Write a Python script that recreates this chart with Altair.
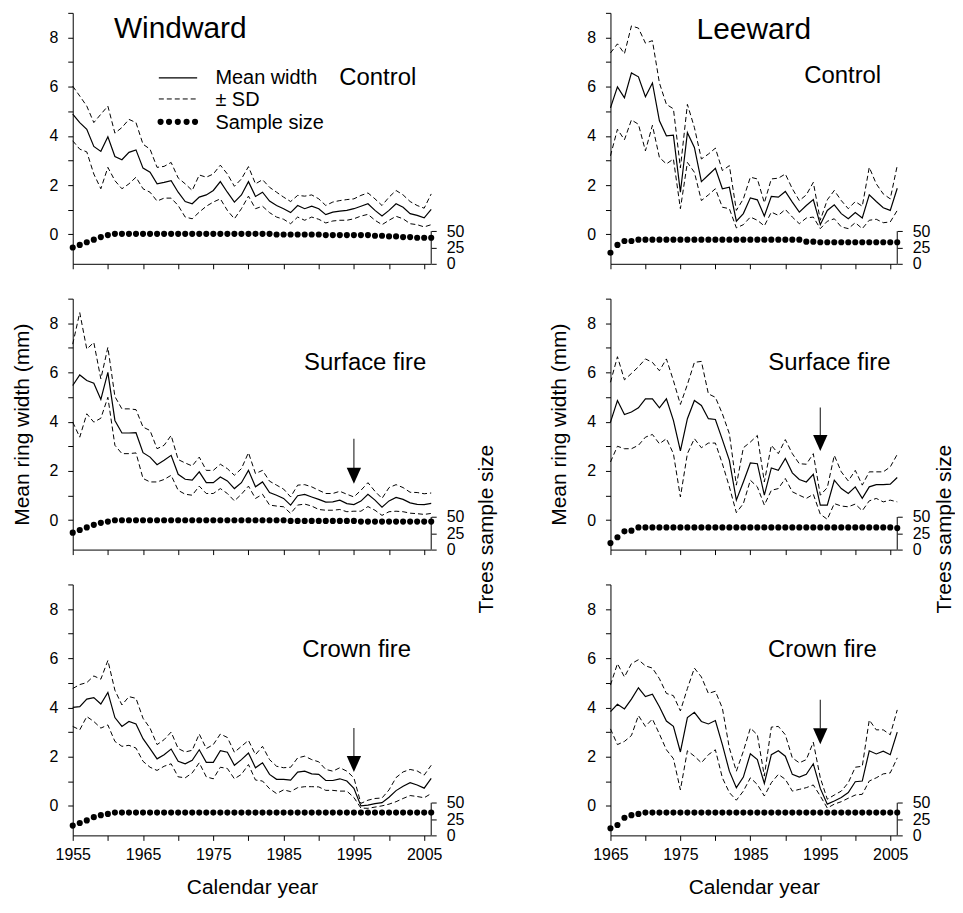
import altair as alt
import pandas as pd

FONT = "Liberation Sans"

# ---------------- data ----------------
WIND_YEARS = list(range(1955, 2007))
LEE_YEARS = list(range(1965, 2007))

wind_control_mean = [4.88, 4.54, 4.27, 3.57, 3.37, 3.96, 3.16, 3.03, 3.33, 3.43,
                     2.69, 2.52, 2.05, 2.11, 2.18, 1.71, 1.33, 1.24, 1.51, 1.60,
                     1.78, 2.14, 1.71, 1.31, 1.60, 2.14, 1.54, 1.71, 1.35, 1.17,
                     1.04, 0.88, 1.17, 1.04, 1.14, 1.04, 0.80, 0.90, 0.94, 0.97,
                     1.04, 1.14, 1.24, 0.97, 0.74, 0.97, 1.24, 1.10, 0.84, 0.77,
                     0.67, 1.01]
wind_control_upper = [6.02, 5.62, 5.21, 4.54, 4.88, 5.21, 4.11, 4.34, 4.67, 4.54,
                      3.66, 3.46, 2.72, 2.76, 2.92, 2.29, 2.05, 1.78, 2.41, 2.32,
                      2.45, 2.81, 2.45, 1.95, 2.25, 2.75, 2.05, 2.22, 1.91, 1.71,
                      1.51, 1.33, 1.58, 1.55, 1.60, 1.44, 1.17, 1.31, 1.37, 1.41,
                      1.44, 1.58, 1.68, 1.44, 1.17, 1.51, 1.78, 1.60, 1.33, 1.17,
                      1.06, 1.64]
wind_control_lower = [3.80, 3.46, 3.35, 2.45, 1.85, 2.72, 2.18, 1.85, 2.05, 2.32,
                      1.85, 1.71, 1.35, 1.47, 1.47, 1.17, 0.70, 0.63, 0.90, 1.14,
                      1.31, 1.44, 0.97, 0.63, 1.04, 1.55, 1.04, 1.14, 0.88, 0.70,
                      0.61, 0.43, 0.70, 0.57, 0.70, 0.61, 0.46, 0.54, 0.57, 0.57,
                      0.63, 0.74, 0.81, 0.57, 0.39, 0.57, 0.73, 0.63, 0.43, 0.39,
                      0.30, 0.39]
wind_control_n = [25, 29, 33, 37, 41, 44] + [46] * 23 + [45] * 7 + [44] * 7 + \
                 [43, 43, 42, 42, 41, 41, 40, 40, 40]

wind_surface_mean = [5.47, 5.90, 5.67, 5.56, 4.90, 6.00, 4.05, 3.54, 3.54, 3.55,
                     2.74, 2.56, 2.25, 2.43, 2.63, 1.86, 1.66, 1.62, 1.96, 1.52,
                     1.52, 1.75, 1.59, 1.28, 1.52, 2.02, 1.35, 1.55, 1.12, 1.01,
                     0.88, 0.61, 0.99, 1.04, 0.94, 0.84, 0.73, 0.74, 0.81, 0.67,
                     0.63, 0.77, 1.05, 0.81, 0.52, 0.78, 0.92, 0.84, 0.70, 0.64,
                     0.63, 0.68]
wind_surface_upper = [7.15, 8.43, 6.95, 7.22, 5.74, 7.02, 5.02, 4.52, 4.52, 4.49,
                      3.78, 3.64, 2.90, 3.04, 3.44, 2.46, 2.32, 2.20, 2.56, 2.02,
                      2.02, 2.27, 2.09, 1.82, 2.09, 2.74, 1.89, 2.02, 1.58, 1.42,
                      1.26, 0.94, 1.42, 1.44, 1.35, 1.21, 1.08, 1.08, 1.17, 1.05,
                      0.94, 1.21, 1.52, 1.17, 0.88, 1.32, 1.44, 1.32, 1.13, 1.12,
                      1.07, 1.10]
wind_surface_lower = [3.98, 3.37, 4.32, 3.98, 4.14, 4.99, 3.04, 2.70, 2.70, 2.73,
                      1.69, 1.55, 1.55, 1.65, 1.82, 1.21, 1.05, 1.01, 1.38, 1.08,
                      1.08, 1.28, 1.08, 0.78, 1.05, 1.38, 0.88, 1.05, 0.61, 0.57,
                      0.54, 0.27, 0.61, 0.65, 0.57, 0.43, 0.40, 0.40, 0.43, 0.34,
                      0.36, 0.36, 0.55, 0.40, 0.19, 0.34, 0.36, 0.34, 0.28, 0.26,
                      0.23, 0.27]
wind_surface_n = [26, 30, 34, 38, 41, 43] + [45] * 25 + [44] * 10 + [43] * 11

wind_crown_mean = [4.00, 4.03, 4.34, 4.40, 4.14, 4.61, 3.59, 3.23, 3.43, 3.33,
                   2.73, 2.33, 1.91, 2.08, 2.31, 1.81, 1.71, 1.85, 2.28, 1.77,
                   1.77, 2.24, 2.18, 1.65, 1.88, 2.15, 1.55, 1.75, 1.28, 1.08,
                   1.08, 1.05, 1.37, 1.41, 1.30, 1.28, 1.03, 1.03, 1.10, 1.01,
                   0.71, 0.00, 0.03, 0.09, 0.13, 0.35, 0.62, 0.80, 0.94, 0.85,
                   0.72, 1.12]
wind_crown_upper = [4.77, 4.93, 5.01, 5.28, 5.15, 5.91, 4.70, 4.10, 4.44, 4.37,
                    3.56, 3.16, 2.49, 2.69, 3.00, 2.33, 2.19, 2.26, 2.92, 2.33,
                    2.49, 2.92, 2.78, 2.18, 2.42, 2.66, 2.08, 2.42, 1.88, 1.61,
                    1.55, 1.57, 1.95, 2.02, 1.88, 1.79, 1.48, 1.41, 1.55, 1.41,
                    1.14, 0.10, 0.23, 0.30, 0.32, 0.65, 1.15, 1.38, 1.48, 1.42,
                    1.25, 1.65]
wind_crown_lower = [3.23, 3.09, 3.63, 3.43, 3.16, 3.29, 2.62, 2.42, 2.46, 2.35,
                    1.81, 1.57, 1.44, 1.61, 1.71, 1.18, 1.14, 1.34, 1.75, 1.18,
                    1.10, 1.57, 1.52, 1.10, 1.28, 1.68, 1.05, 1.01, 0.70, 0.50,
                    0.65, 0.58, 0.74, 0.78, 0.78, 0.77, 0.63, 0.63, 0.60, 0.60,
                    0.34, -0.09, -0.10, -0.05, 0.00, 0.07, 0.17, 0.30, 0.42, 0.38,
                    0.33, 0.50]
wind_crown_n = [15, 19, 23, 28, 31, 33] + [35] * 46

lee_control_mean = [5.14, 5.99, 5.55, 6.56, 6.40, 5.59, 6.15, 4.61, 4.00, 4.03,
                    1.71, 4.13, 3.53, 2.14, 2.41, 2.68, 1.85, 1.91, 0.53, 0.84,
                    1.48, 1.40, 0.74, 1.54, 1.51, 1.74, 1.31, 0.90, 1.17, 1.41,
                    0.39, 0.97, 1.20, 0.84, 0.63, 0.88, 0.66, 1.60, 1.33, 1.08,
                    0.97, 1.87]
lee_control_upper = [7.37, 7.74, 7.34, 8.47, 8.38, 7.77, 7.87, 6.15, 5.28, 5.10,
                     2.70, 5.28, 4.34, 3.06, 3.26, 3.50, 2.59, 2.79, 0.97, 1.44,
                     2.32, 2.25, 1.28, 2.25, 2.28, 2.45, 1.85, 1.37, 1.60, 2.11,
                     0.57, 1.40, 1.78, 1.37, 1.04, 1.33, 1.14, 2.72, 2.05, 1.64,
                     1.44, 2.79]
lee_control_lower = [3.19, 4.27, 3.84, 4.65, 4.47, 3.39, 4.43, 3.12, 2.86, 3.06,
                     1.04, 2.92, 2.52, 1.37, 1.60, 1.85, 1.10, 1.04, 0.26, 0.39,
                     0.70, 0.57, 0.34, 0.90, 0.77, 1.01, 0.70, 0.43, 0.66, 0.70,
                     0.23, 0.53, 0.63, 0.30, 0.23, 0.47, 0.23, 0.57, 0.61, 0.47,
                     0.50, 0.97]
lee_control_n = [17, 29, 35, 35] + [37] * 24 + [34, 34] + [33] * 12

lee_surface_mean = [3.98, 4.86, 4.29, 4.39, 4.56, 4.93, 4.93, 4.56, 4.93, 4.05,
                    2.81, 4.12, 4.86, 4.66, 4.12, 4.09, 3.27, 2.43, 0.81, 1.55,
                    2.32, 2.29, 1.01, 2.12, 2.02, 2.50, 1.92, 1.65, 1.55, 1.86,
                    0.61, 0.61, 1.62, 1.28, 1.08, 1.35, 0.88, 1.35, 1.44, 1.44,
                    1.46, 1.73]
lee_surface_upper = [5.60, 6.64, 5.70, 5.96, 6.23, 6.55, 6.41, 6.07, 6.55, 5.67,
                     4.70, 5.51, 6.41, 6.45, 5.13, 4.99, 4.32, 3.51, 1.42, 2.94,
                     3.17, 3.44, 1.55, 3.04, 2.70, 3.27, 2.70, 2.29, 2.27, 2.70,
                     1.01, 1.32, 2.63, 1.96, 1.59, 2.02, 1.42, 1.96, 1.96, 1.96,
                     2.16, 2.67]
lee_surface_lower = [2.36, 3.00, 2.90, 2.90, 3.04, 3.37, 3.48, 3.10, 3.31, 2.70,
                     0.94, 2.70, 3.31, 2.94, 3.13, 3.13, 2.29, 1.35, 0.30, 0.67,
                     1.62, 1.35, 0.61, 1.21, 1.28, 1.69, 1.15, 1.01, 0.88, 1.05,
                     0.24, 0.03, 0.67, 0.57, 0.54, 0.65, 0.38, 0.78, 0.88, 0.74,
                     0.81, 0.74]
lee_surface_n = [10, 19, 28, 29] + [34] * 37 + [33]

lee_crown_mean = [3.83, 4.13, 3.94, 4.34, 4.80, 4.44, 4.54, 4.03, 3.45, 3.23,
                  2.19, 3.59, 3.80, 3.43, 3.33, 3.47, 2.49, 1.41, 0.74, 1.17,
                  2.12, 1.88, 0.91, 2.08, 2.24, 2.02, 1.28, 1.17, 1.28, 1.71,
                  0.71, 0.07, 0.20, 0.34, 0.54, 0.98, 1.01, 2.24, 2.11, 2.22,
                  2.08, 3.00]
lee_crown_upper = [4.91, 5.78, 5.24, 5.78, 5.94, 5.69, 5.60, 5.17, 4.57, 4.48,
                   3.86, 4.77, 5.60, 5.24, 4.57, 4.66, 3.97, 2.35, 1.41, 2.22,
                   3.16, 2.89, 1.21, 3.20, 3.23, 2.89, 1.95, 1.75, 1.88, 2.59,
                   1.14, 0.27, 0.44, 0.60, 0.94, 1.57, 1.61, 3.49, 3.09, 3.09,
                   2.89, 3.90]
lee_crown_lower = [3.13, 2.49, 2.62, 2.86, 3.67, 3.23, 3.53, 2.92, 2.28, 1.92,
                   0.65, 2.24, 2.02, 1.75, 2.08, 2.28, 1.14, 0.54, 0.23, 0.60,
                   1.14, 0.87, 0.40, 0.94, 1.28, 1.08, 0.60, 0.67, 0.74, 0.85,
                   0.40, -0.09, 0.07, 0.17, 0.31, 0.44, 0.47, 1.01, 1.14, 1.30,
                   1.34, 1.95]
lee_crown_n = [11, 16, 27, 31, 33] + [35] * 37

SIDES = ["Windward", "Leeward"]
TREATMENTS = ["Control", "Surface fire", "Crown fire"]
LEGEND_LABELS = ["Mean width", "\u00b1 SD", "Sample size"]
N_TICKS = [0, 25, 50]
FIRE_YEAR = 1995

SERIES = {
    ("Windward", "Control"): (WIND_YEARS, wind_control_mean, wind_control_upper, wind_control_lower, wind_control_n),
    ("Windward", "Surface fire"): (WIND_YEARS, wind_surface_mean, wind_surface_upper, wind_surface_lower, wind_surface_n),
    ("Windward", "Crown fire"): (WIND_YEARS, wind_crown_mean, wind_crown_upper, wind_crown_lower, wind_crown_n),
    ("Leeward", "Control"): (LEE_YEARS, lee_control_mean, lee_control_upper, lee_control_lower, lee_control_n),
    ("Leeward", "Surface fire"): (LEE_YEARS, lee_surface_mean, lee_surface_upper, lee_surface_lower, lee_surface_n),
    ("Leeward", "Crown fire"): (LEE_YEARS, lee_crown_mean, lee_crown_upper, lee_crown_lower, lee_crown_n),
}

# ---------------- annotation placement (data units) ----------------
LABEL_POS = {
    ("Windward", "Control"): (1998.4, 6.37),
    ("Windward", "Surface fire"): (1996.6, 6.38),
    ("Windward", "Crown fire"): (1995.4, 6.33),
    ("Leeward", "Control"): (1998.2, 6.42),
    ("Leeward", "Surface fire"): (1996.3, 6.38),
    ("Leeward", "Crown fire"): (1995.3, 6.33),
}
SIDE_TITLE_POS = {"Windward": (1970.3, 8.35), "Leeward": (1985.5, 8.32)}
# shaft top, head top, head centre
ARROW_POS = {
    ("Windward", "Surface fire"): (3.31, 2.1, 1.8),
    ("Windward", "Crown fire"): (3.17, 2.0, 1.7),
    ("Leeward", "Surface fire"): (4.58, 3.45, 3.13),
    ("Leeward", "Crown fire"): (4.31, 3.14, 2.83),
}

Y_DOMAIN = [-1.2, 9]
N_DOMAIN = [0, 385]
PANEL_H = 252
LABEL_SIZE = 16
TITLE_SIZE = 21


def make_panel(side, treatment, row):
    years, mean, upper, lower, n = SERIES[(side, treatment)]
    left = side == "Windward"
    xmin = years[0]
    width = 360 if left else 288
    bottom = row == 2
    middle = row == 1
    df = pd.DataFrame({"year": years, "mean": mean, "upper": upper,
                       "lower": lower, "n": n})

    xs = alt.Scale(domain=[xmin, 2006], nice=False, zero=False)
    ys = alt.Scale(domain=Y_DOMAIN, nice=False, zero=False)
    ns = alt.Scale(domain=N_DOMAIN, nice=False, zero=False)

    xaxis_kw = dict(values=list(range(xmin, 2006, 5)), format="d", labels=bottom,
                    labelFlush=False, labelOverlap=False, labelPadding=6,
                    titleFontSize=TITLE_SIZE, titlePadding=14, tickSize=5,
                    orient="bottom")
    if bottom:
        xaxis_kw["labelExpr"] = "datum.value % 10 == 5 ? datum.label : ''"
        xaxis_kw["labelFontSize"] = {
            "condition": {"test": "datum.value % 10 != 5", "value": 0},
            "value": LABEL_SIZE}
    xaxis = alt.Axis(**xaxis_kw)
    xtitle = "Calendar year" if bottom else None

    def X():
        return alt.X("year:Q", scale=xs, axis=xaxis, title=xtitle)

    def Yp(field):
        return alt.Y(field, scale=ys, axis=None)

    yaxis = alt.Axis(values=list(range(0, 10)), orient="left",
                     labelExpr="datum.value % 2 == 0 ? datum.label : ''",
                     labelFontSize={"condition": {"test": "datum.value % 2 == 1",
                                                  "value": 0},
                                    "value": LABEL_SIZE},
                     titleFontSize=TITLE_SIZE,
                     labelPadding=10, titlePadding=17, tickSize=5)

    mean_line = alt.Chart(df).mark_line(color="black", strokeWidth=1.2).encode(
        x=X(),
        y=alt.Y("mean:Q", scale=ys, axis=yaxis,
                title="Mean ring width (mm)" if middle else None))

    naxis_kw = dict(values=N_TICKS, orient="right", domain=False, labelPadding=10,
                    labelFontSize=LABEL_SIZE, titleFontSize=TITLE_SIZE,
                    tickSize=5, titlePadding=12 if left else 4,
                    titleAngle=270, titleBaseline="top")
    if middle:
        naxis_kw["titleY"] = 231
    pts = alt.Chart(df).mark_circle(color="black", size=38, opacity=1).encode(
        x=X(),
        y=alt.Y("n:Q", scale=ns, axis=alt.Axis(**naxis_kw),
                title="Trees sample size" if middle else None))

    up_line = alt.Chart(df).mark_line(color="black", strokeWidth=1,
                                      strokeDash=[5, 3]).encode(
        x=X(), y=Yp("upper:Q"))
    lo_line = alt.Chart(df).mark_line(color="black", strokeWidth=1,
                                      strokeDash=[5, 3]).encode(
        x=X(), y=Yp("lower:Q"))
    layers = [mean_line, pts, up_line, lo_line]

    rule = alt.Chart(pd.DataFrame({"year": [2006], "a": [N_TICKS[0]], "b": [N_TICKS[-1]]})) \
        .mark_rule(color="black", strokeWidth=1) \
        .encode(x=X(), y=alt.Y("a:Q", scale=ns, axis=None), y2="b:Q")
    layers.append(rule)

    tx, ty = LABEL_POS[(side, treatment)]
    layers.append(
        alt.Chart(pd.DataFrame({"year": [tx], "v": [ty], "t": [treatment]}))
        .mark_text(font=FONT, fontSize=24, align="center", baseline="middle",
                   color="black")
        .encode(x=X(), y=Yp("v:Q"), text="t:N"))

    if treatment == "Control":
        sx, sy = SIDE_TITLE_POS[side]
        layers.append(
            alt.Chart(pd.DataFrame({"year": [sx], "v": [sy], "t": [side]}))
            .mark_text(font=FONT, fontSize=30, align="center", baseline="middle",
                       color="black")
            .encode(x=X(), y=Yp("v:Q"), text="t:N"))

    if left and treatment == "Control":
        solid = pd.DataFrame({"year": [1967.25, 1972.7], "v": [6.36, 6.36]})
        dashed = pd.DataFrame({"year": [1967.25, 1972.7], "v": [5.5, 5.5]})
        dots = pd.DataFrame({"year": [1967.5, 1968.7, 1969.95, 1971.2, 1972.4],
                             "v": [4.57] * 5})
        texts = pd.DataFrame({"year": [1975.3] * 3, "v": [6.34, 5.45, 4.53],
                              "t": LEGEND_LABELS})
        layers += [
            alt.Chart(solid).mark_line(color="black", strokeWidth=1.2).encode(
                x=X(), y=Yp("v:Q")),
            alt.Chart(dashed).mark_line(color="black", strokeWidth=1,
                                        strokeDash=[5, 3]).encode(
                x=X(), y=Yp("v:Q")),
            alt.Chart(dots).mark_circle(color="black", size=38, opacity=1).encode(
                x=X(), y=Yp("v:Q")),
            alt.Chart(texts).mark_text(font=FONT, fontSize=20, align="left",
                                       baseline="middle", color="black").encode(
                x=X(), y=Yp("v:Q"), text="t:N"),
        ]

    if (side, treatment) in ARROW_POS:
        top, head_top, head_c = ARROW_POS[(side, treatment)]
        layers += [
            alt.Chart(pd.DataFrame({"year": [FIRE_YEAR], "a": [top], "b": [head_top]}))
            .mark_rule(color="#333333", strokeWidth=1.2)
            .encode(x=X(), y=Yp("a:Q"), y2="b:Q"),
            alt.Chart(pd.DataFrame({"year": [FIRE_YEAR], "v": [head_c]}))
            .mark_point(shape="M-0.9,-1L0.9,-1L0,1Z", size=256, filled=True,
                        color="black", opacity=1)
            .encode(x=X(), y=Yp("v:Q")),
        ]

    return alt.layer(*layers).resolve_scale(y="independent").properties(
        width=width, height=PANEL_H)


panels = []
for r, tr in enumerate(TREATMENTS):
    for sd in SIDES:
        panels.append(make_panel(sd, tr, r))

chart = alt.concat(*panels, columns=2, spacing={"row": 35, "column": 180},
                   bounds="flush", align="each").properties(
    padding={"left": 3, "top": 2, "right": 0, "bottom": 0}
).configure_view(stroke=None).configure_axis(
    labelFont=FONT, titleFont=FONT, labelFontSize=LABEL_SIZE,
    titleFontSize=TITLE_SIZE, titleFontWeight="normal", labelColor="black",
    titleColor="black", domainColor="black", tickColor="black", grid=False,
    domainWidth=1, tickWidth=1)

chart.save("out.html", embed_options={"renderer": "svg", "actions": False})
